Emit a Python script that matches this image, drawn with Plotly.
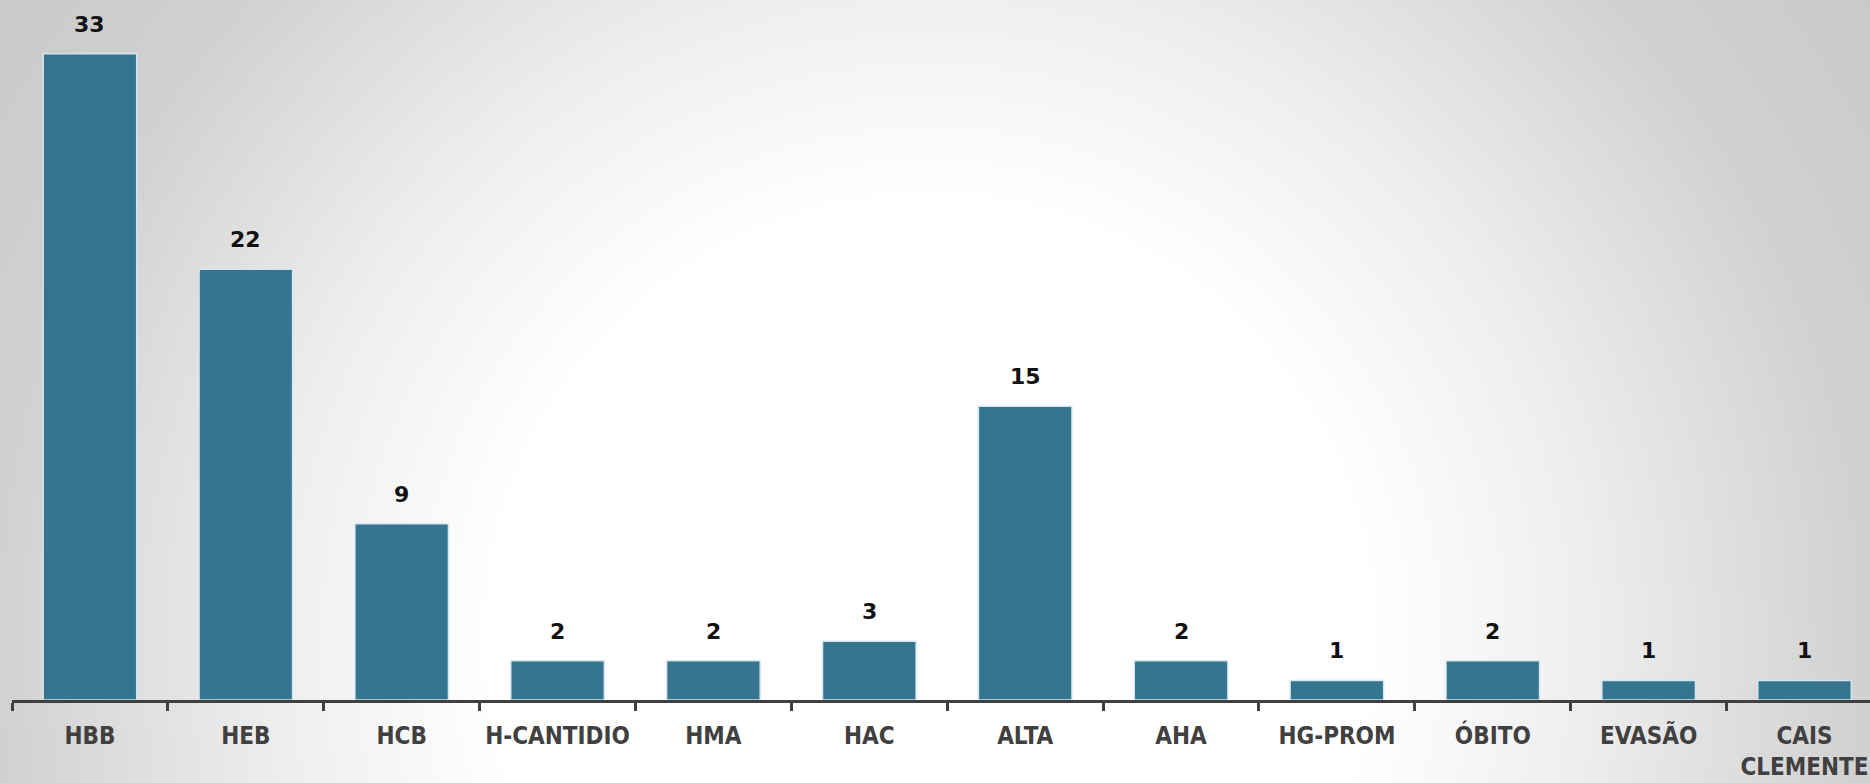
import base64
import plotly.graph_objects as go

categories = ["HBB", "HEB", "HCB", "H-CANTIDIO", "HMA", "HAC", "ALTA", "AHA",
              "HG-PROM", "ÓBITO", "EVASÃO", "CAIS<br>CLEMENTE"]
values = [33, 22, 9, 2, 2, 3, 15, 2, 1, 2, 1, 1]

W, H = 1870, 783
ML, MR, MT, MB = 12, 0, 0, 83
PW, PH = W - ML - MR, H - MT - MB

svg = f'''<svg xmlns="http://www.w3.org/2000/svg" width="{W}" height="{H}" viewBox="0 0 {W} {H}" preserveAspectRatio="none">
<defs><radialGradient id="g" gradientUnits="userSpaceOnUse" cx="930" cy="640" r="1150">
<stop offset="0" stop-color="#ffffff"/><stop offset="0.38" stop-color="#ffffff"/>
<stop offset="0.57" stop-color="#eeeeee"/><stop offset="0.81" stop-color="#d1d1d1"/>
<stop offset="1" stop-color="#c9c9c9"/></radialGradient></defs>
<rect x="0" y="0" width="{W}" height="{H}" fill="url(#g)"/></svg>'''
bg_src = "data:image/svg+xml;base64," + base64.b64encode(svg.encode()).decode()

fig = go.Figure()
fig.add_trace(go.Bar(
    x=categories, y=values, width=0.6,
    marker=dict(color="#36758f", line=dict(color="rgba(215,232,240,0.95)", width=1.5)),
    hoverinfo="x+y",
))

for c, v in zip(categories, values):
    fig.add_annotation(x=c, y=v, text=str(v), showarrow=False, yanchor="bottom",
                       yshift=15, font=dict(family="DejaVu Sans", size=22, color="#111111",
                                            weight="bold"))

fig.update_layout(
    width=W, height=H,
    margin=dict(l=ML, r=MR, t=MT, b=MB, pad=0),
    paper_bgcolor="#e6e6e6", plot_bgcolor="rgba(0,0,0,0)",
    showlegend=False,
    images=[dict(source=bg_src, xref="paper", yref="paper",
                 x=-ML / PW, y=1 + MT / PH, sizex=W / PW, sizey=H / PH,
                 xanchor="left", yanchor="top", sizing="stretch", layer="below")],
    xaxis=dict(
        type="category", range=[-0.5, 11.42], tickson="boundaries",
        showline=True, linecolor="#404040", linewidth=3,
        ticks="outside", ticklen=8, tickwidth=3, tickcolor="#404040",
        ticklabelstandoff=12,
        tickfont=dict(family="Liberation Sans Narrow, DejaVu Sans Condensed, Arial Narrow, sans-serif",
                      size=24, color="#404040", weight="bold"),
        showgrid=False, zeroline=False, fixedrange=True,
    ),
    yaxis=dict(range=[0, 35.75], visible=False, showgrid=False, zeroline=False, fixedrange=True),
    bargap=0.4,
)

fig.write_html("out.html", config={"displayModeBar": False},
               post_script="document.body.style.margin='0';document.body.style.overflow='hidden';")
